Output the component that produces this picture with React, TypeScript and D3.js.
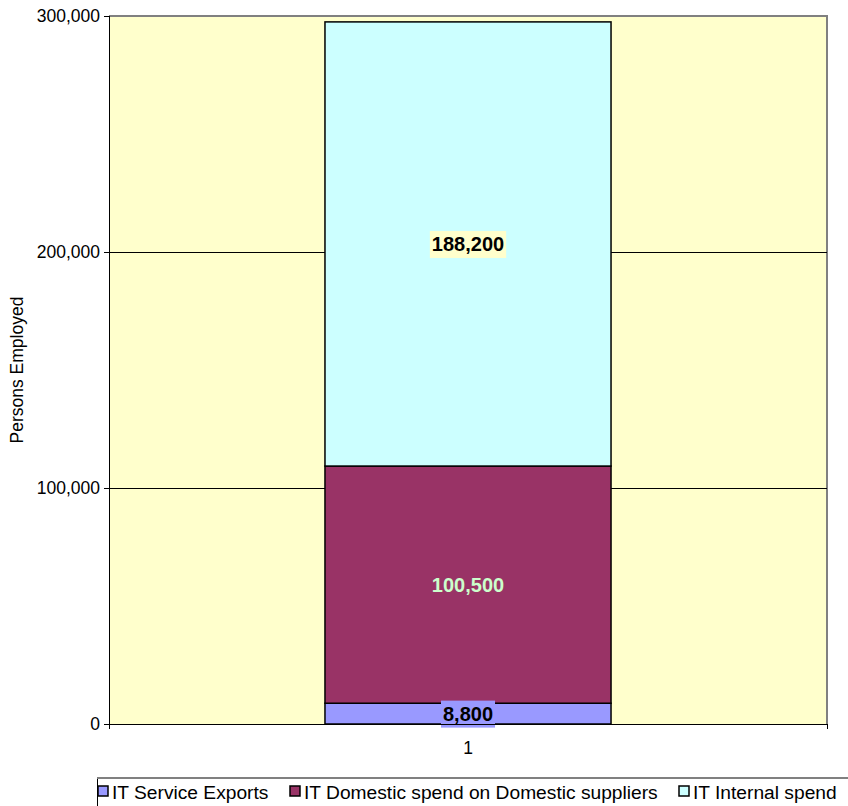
import React from "react";
import * as d3 from "d3";

const categories = ["1"];
const seriesNames = ["IT Service Exports", "IT Domestic spend on Domestic suppliers", "IT Internal spend"];
const serviceExports = [8800];
const domesticSpend = [100500];
const internalSpend = [188200];
const yTicks = [0, 100000, 200000, 300000];

const colors = ["#9999FF", "#993366", "#CCFFFF"];
const labelFill = ["#000000", "#CCFFCC", "#000000"];
const labelBg = ["#9999FF", null, "#FFFFCC"];

const W = 848, H = 806;
const plot = { left: 109, top: 16, right: 827, bottom: 724 };
const FONT = "'Liberation Sans', Arial, sans-serif";

// approximate advance of a formatted number in Arial-metric bold, in em
const numberEm = (s: string) => Array.from(s).reduce((a, ch) => a + (ch === "," ? 0.278 : 0.556), 0);

export default function App() {
  const x = d3.scaleBand().domain(categories).range([plot.left, plot.right]).paddingInner(0).paddingOuter(0.755);
  const y = d3.scaleLinear().domain([0, 300000]).range([plot.bottom, plot.top]);
  const fmt = d3.format(",");

  const table = categories.map((c, i) => ({ cat: c, s0: serviceExports[i], s1: domesticSpend[i], s2: internalSpend[i] }));
  const stacked = d3.stack<any>().keys(["s0", "s1", "s2"])(table);

  const legendX = [98, 290, 679];
  const labelSize = 20;

  return (
    <svg width={W} height={H} style={{ position: "absolute", left: 0, top: 0 }} fontFamily={FONT}>
      <rect x={0} y={0} width={W} height={H} fill="#fff" />
      <rect x={plot.left} y={plot.top} width={plot.right - plot.left} height={plot.bottom - plot.top} fill="#FFFFCC" />
      {/* plot border (top/right) */}
      <path d={`M${plot.left},${plot.top}H${plot.right}V${plot.bottom}`} fill="none" stroke="#808080" strokeWidth={2} />
      <g shapeRendering="crispEdges">
        {yTicks.filter((t) => t > 0 && t < 300000).map((t) => (
          <line key={t} x1={plot.left} x2={plot.right} y1={y(t) + 0.5} y2={y(t) + 0.5} stroke="#000" strokeWidth={1} />
        ))}
      </g>
      {stacked.map((layer, k) =>
        layer.map((d, i) => (
          <rect key={`${k}-${i}`} x={x(categories[i])!} width={x.bandwidth()} y={y(d[1])} height={y(d[0]) - y(d[1])}
            fill={colors[k]} stroke="#000" strokeWidth={1.5} />
        ))
      )}
      {stacked.map((layer, k) =>
        layer.map((d, i) => {
          const cx = x(categories[i])! + x.bandwidth() / 2;
          const cy = (y(d[0]) + y(d[1])) / 2;
          const text = fmt(d[1] - d[0]);
          const bg = labelBg[k];
          const tw = numberEm(text) * labelSize;
          return (
            <g key={`l${k}-${i}`}>
              {bg && <rect x={cx - tw / 2 - 2} y={cy - 13} width={tw + 4} height={27} fill={bg} />}
              <text x={cx} y={cy + 7.5} textAnchor="middle" fontWeight="bold" fontSize={labelSize} fill={labelFill[k]}>{text}</text>
            </g>
          );
        })
      )}
      {/* axes */}
      <g shapeRendering="crispEdges">
        <line x1={plot.left + 0.5} x2={plot.left + 0.5} y1={plot.top} y2={plot.bottom + 5} stroke="#000" strokeWidth={1} />
        <line x1={plot.left} x2={plot.right} y1={plot.bottom + 0.5} y2={plot.bottom + 0.5} stroke="#000" strokeWidth={1} />
        <line x1={plot.right + 0.5} x2={plot.right + 0.5} y1={plot.bottom} y2={plot.bottom + 5} stroke="#000" strokeWidth={1} />
        {yTicks.map((t) => (
          <line key={t} x1={plot.left - 5} x2={plot.left} y1={y(t) + 0.5} y2={y(t) + 0.5} stroke="#000" />
        ))}
      </g>
      {yTicks.map((t) => (
        <text key={t} x={plot.left - 9} y={y(t) + 6} textAnchor="end" fontSize={17.5} fill="#000">{fmt(t)}</text>
      ))}
      {categories.map((c) => (
        <text key={c} x={x(c)! + x.bandwidth() / 2} y={754} textAnchor="middle" fontSize={17.5}>{c}</text>
      ))}
      <text transform={`translate(23,${(plot.top + plot.bottom) / 2}) rotate(-90)`} textAnchor="middle" fontSize={17.5}>Persons Employed</text>
      {/* legend */}
      <rect x={97.5} y={778.5} width={800} height={40} fill="#fff" stroke="#000" strokeWidth={1} />
      <path d="M97,778H860" stroke="#808080" strokeWidth={2} />
      {seriesNames.map((n, k) => (
        <g key={n}>
          <rect x={legendX[k]} y={786} width={10} height={10} fill={colors[k]} stroke="#000" strokeWidth={1.5} />
          <text x={legendX[k] + 14} y={799} fontSize={19.2}>{n}</text>
        </g>
      ))}
    </svg>
  );
}
